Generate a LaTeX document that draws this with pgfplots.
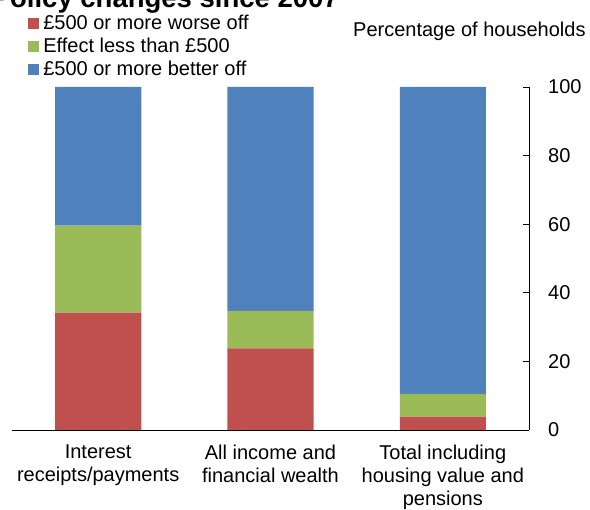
\documentclass[border=0pt]{standalone}
\usepackage{fontspec}
\setmainfont{Liberation Sans}
\usepackage{pgfplots}
\pgfplotsset{compat=1.18}
\definecolor{cred}{HTML}{C0504D}
\definecolor{cgreen}{HTML}{9BBB59}
\definecolor{cblue}{HTML}{4F81BD}
\begin{document}
\begin{tikzpicture}
\begin{axis}[
  at={(0pt,0pt)}, anchor=south west,
  scale only axis, width=517pt, height=343pt,
  ybar stacked, bar width=0.5,
  xmin=0.5, xmax=3.5, ymin=0, ymax=100,
  axis x line=bottom, axis y line=right,
  axis line style={-, black, line width=0.8pt},
  tick align=inside,
  xtick={1,2,3},
  xticklabels={{Interest\\receipts/payments},{All income and\\financial wealth},{Total including\\housing value and\\pensions}},
  xtick style={draw=none},
  minor xtick={0.5,1.5,2.5,3.5},
  minor tick length=6pt,
  minor tick style={black, line width=0.8pt},
  ytick={0,20,40,60,80,100},
  major tick length=6pt,
  ytick style={black, line width=0.8pt},
  /pgf/number format/assume math mode=true,
  yticklabel style={font=\fontsize{20}{24}\selectfont, anchor=west, inner sep=0pt, xshift=19pt},
  xticklabel style={font=\fontsize{20}{23}\selectfont, anchor=north, inner sep=0pt, yshift=-15pt, align=center},
  legend image code/.code={\fill[#1] (0pt,0.5pt) rectangle (11pt,11.5pt);},
  legend style={at={(0.0315,1.2085)}, anchor=north west, draw=none, fill=none,
    inner sep=0pt, outer sep=0pt, font=\fontsize{20}{24}\selectfont,
    row sep={22.8pt,between origins}, column sep=4pt,
    nodes={inner sep=0pt, anchor=base west}},
  legend cell align=left,
  clip=false,
]
\addplot[fill=cred, draw=none] coordinates {(1,34.2) (2,23.8) (3,3.9)};
\addlegendentry{£500 or more worse off}
\addplot[fill=cgreen, draw=none] coordinates {(1,25.4) (2,10.9) (3,6.6)};
\addlegendentry{Effect less than £500}
\addplot[fill=cblue, draw=none] coordinates {(1,40.4) (2,65.3) (3,89.5)};
\addlegendentry{£500 or more better off}
\end{axis}
\node[anchor=base west, inner sep=0pt, font=\fontsize{20}{24}\selectfont] at (341pt,393.3pt) {Percentage of households};
\node[anchor=base east, inner sep=0pt, font=\fontsize{27.5}{30}\selectfont\bfseries] at (327pt,422pt) {Policy changes since 2007};
\pgfresetboundingbox
\useasboundingbox (-12pt,-80pt) rectangle (578pt,430pt);
\end{tikzpicture}
\end{document}
